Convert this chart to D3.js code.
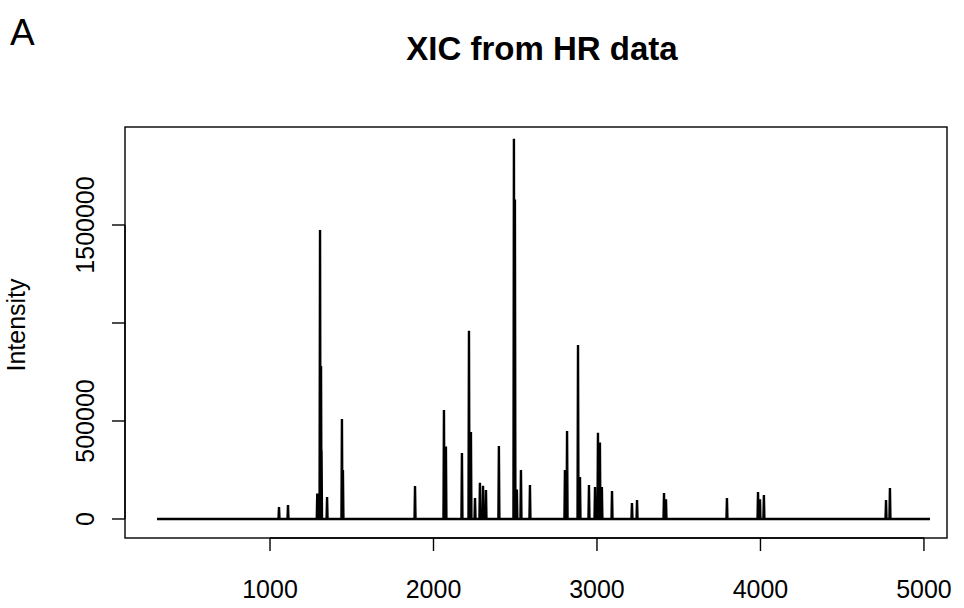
<!DOCTYPE html>
<html><head><meta charset="utf-8">
<script src="https://cdn.jsdelivr.net/npm/d3@7"></script>
<style>body{margin:0;background:#fff}text{font-family:"Liberation Sans",Arial,sans-serif}</style>
</head><body><svg id="c" width="964" height="608"></svg>
<script>
const peakMz = [1055,1110,1289,1306,1312,1315,1349,1440,1446,1887,2064,2076,2174,2217,2229,2254,2284,2303,2321,2400,2492,2498,2510,2535,2590,2804,2817,2884,2896,2951,2988,3006,3018,3030,3092,3214,3245,3410,3422,3795,3985,3997,4021,4768,4792];
const peakIntensity = [61000,71000,130000,1474000,780000,350000,112000,510000,250000,168000,556000,370000,337000,960000,444000,107000,185000,170000,148000,372000,1940000,1630000,150000,250000,173000,250000,449000,888000,214000,173000,163000,440000,390000,163000,143000,82000,97000,133000,100000,107000,138000,100000,122000,97000,158000];
const mzStart = 309, mzEnd = 5037;
const xTicks = [1000,2000,3000,4000,5000];
const yTicks = [0,500000,1000000,1500000];
const yTickLabels = ["0","500000","","1500000"];

const svg = d3.select("#c");
const L=125,R=947,T=127,B=538;
const x = d3.scaleLinear().domain([113,5141]).range([L,R]);
const y = d3.scaleLinear().domain([-97000,2000000]).range([B,T]);

const pts=[[mzStart,0]];
peakMz.forEach((m,i)=>{pts.push([m-3,0],[m,peakIntensity[i]],[m+3,0]);});
pts.push([mzEnd,0]);
svg.append("path").attr("d",d3.line().x(d=>x(d[0])).y(d=>y(d[1]))(pts))
  .attr("fill","none").attr("stroke","#000").attr("stroke-width",2.4);

svg.append("rect").attr("x",L).attr("y",T).attr("width",R-L).attr("height",B-T)
  .attr("fill","none").attr("stroke","#000").attr("stroke-width",1.4);

const g = svg.append("g");
g.append("path").attr("d",`M${x(1000)},${B}H${x(5000)}`).attr("stroke","#000").attr("stroke-width",1.4);
xTicks.forEach(t=>{
  g.append("line").attr("x1",x(t)).attr("x2",x(t)).attr("y1",B).attr("y2",B+13).attr("stroke","#000").attr("stroke-width",1.4);
  g.append("text").attr("x",x(t)).attr("y",598).attr("text-anchor","middle").attr("font-size",25).text(d3.format("d")(t));
});
g.append("path").attr("d",`M${L},${y(0)}V${y(1500000)}`).attr("stroke","#000").attr("stroke-width",1.4);
yTicks.forEach((t,i)=>{
  g.append("line").attr("x1",L).attr("x2",L-13).attr("y1",y(t)).attr("y2",y(t)).attr("stroke","#000").attr("stroke-width",1.4);
  if(yTickLabels[i]) g.append("text").attr("transform",`translate(94,${y(t)}) rotate(-90)`).attr("text-anchor","middle")
    .attr("font-size",25).text(yTickLabels[i]);
});

svg.append("text").attr("x",542).attr("y",60).attr("text-anchor","middle")
  .attr("font-size",33).attr("font-weight","bold").text("XIC from HR data");
svg.append("text").attr("x",10).attr("y",45).attr("font-size",37).text("A");
svg.append("text").attr("transform","translate(25,325) rotate(-90)")
  .attr("text-anchor","middle").attr("font-size",25).text("Intensity");
</script></body></html>
